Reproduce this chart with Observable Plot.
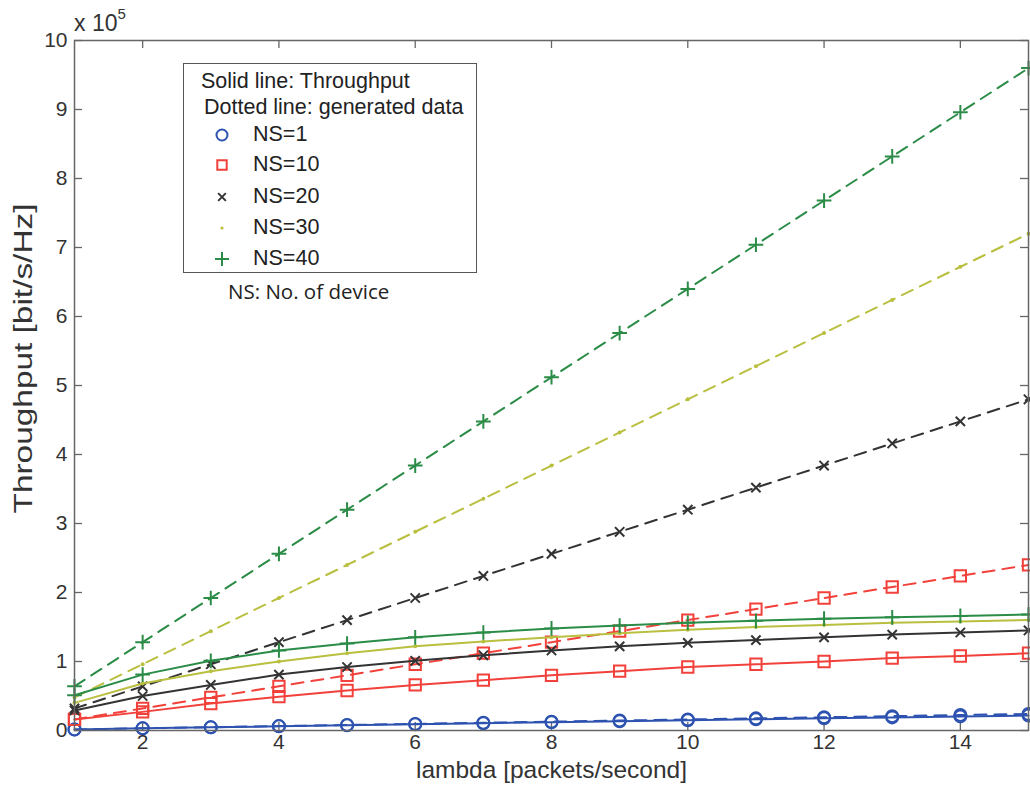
<!DOCTYPE html>
<html>
<head>
<meta charset="utf-8">
<script src="https://cdn.jsdelivr.net/npm/d3@7"></script>
<script src="https://cdn.jsdelivr.net/npm/@observablehq/plot@0.6"></script>
<style>
  body { margin: 0; background: #fff; }
  #wrap { position: relative; width: 1030px; height: 788px; overflow: hidden; }
  #wrap svg.plot { position: absolute; left: 0; top: 0; }
  .abs { position: absolute; white-space: nowrap; }
  #exp { left: 74px; top: 8px; font-family: "Liberation Sans", Arial, sans-serif; font-size: 23px; color: #333; }
  #exp sup { font-size: 15px; position: relative; top: -3px; }
  #legend { left: 183px; top: 63px; width: 294px; height: 210px; border: 1.5px solid #555; background: #fff; box-sizing: border-box; }
  .lt { font-family: "Liberation Sans", Arial, sans-serif; font-size: 21.5px; color: #222; }
  #note { font-family: "Open Sans", "Noto Sans", sans-serif; font-size: 20.5px; color: #222; }
</style>
</head>
<body>
<div id="wrap"></div>
<script>
// ---- data ----
const lambda = [1, 2, 3, 4, 5, 6, 7, 8, 9, 10, 11, 12, 13, 14, 15];
const nsLabels = ["NS=1", "NS=10", "NS=20", "NS=30", "NS=40"];
// throughput (solid), units of 1e5
const thrNS1  = [0.015, 0.031, 0.046, 0.061, 0.076, 0.091, 0.106, 0.12, 0.135, 0.149, 0.163, 0.177, 0.19, 0.204, 0.217];
const thrNS10 = [0.16, 0.27, 0.39, 0.49, 0.58, 0.66, 0.73, 0.80, 0.86, 0.92, 0.96, 1.00, 1.05, 1.08, 1.12];
const thrNS20 = [0.29, 0.50, 0.66, 0.81, 0.92, 1.01, 1.09, 1.16, 1.22, 1.27, 1.31, 1.35, 1.39, 1.42, 1.45];
const thrNS30 = [0.40, 0.68, 0.86, 1.00, 1.12, 1.22, 1.29, 1.35, 1.41, 1.46, 1.50, 1.53, 1.56, 1.58, 1.60];
const thrNS40 = [0.51, 0.81, 1.01, 1.16, 1.26, 1.35, 1.42, 1.48, 1.52, 1.56, 1.59, 1.62, 1.64, 1.66, 1.68];
// generated data (dashed), units of 1e5
const genNS1  = [0.016, 0.032, 0.048, 0.064, 0.08, 0.096, 0.112, 0.128, 0.144, 0.16, 0.176, 0.192, 0.208, 0.224, 0.24];
const genNS10 = [0.16, 0.32, 0.48, 0.64, 0.8, 0.96, 1.12, 1.28, 1.44, 1.6, 1.76, 1.92, 2.08, 2.24, 2.4];
const genNS20 = [0.32, 0.64, 0.96, 1.28, 1.6, 1.92, 2.24, 2.56, 2.88, 3.2, 3.52, 3.84, 4.16, 4.48, 4.8];
const genNS30 = [0.48, 0.96, 1.44, 1.92, 2.4, 2.88, 3.36, 3.84, 4.32, 4.8, 5.28, 5.76, 6.24, 6.72, 7.2];
const genNS40 = [0.64, 1.28, 1.92, 2.56, 3.2, 3.84, 4.48, 5.12, 5.76, 6.4, 7.04, 7.68, 8.32, 8.96, 9.6];
const xTicks = [2, 4, 6, 8, 10, 12, 14];
const yTicks = [0, 1, 2, 3, 4, 5, 6, 7, 8, 9, 10];
const xLabel = "lambda [packets/second]";
const yLabel = "Throughput [bit/s/Hz]";
const legendTitle1 = "Solid line: Throughput";
const legendTitle2 = "Dotted line: generated data";
const legendNote = "NS: No. of device";

// ---- styles ----
const colors = ["#2d52b0", "#f2413b", "#333333", "#b9bf3e", "#2b8c47"];
const symbols = ["circle", "square2", "times", "dotfill", "plus"];
const symR = [6, 7.2, 4.3, 2, 4.8];

const thr = [thrNS1, thrNS10, thrNS20, thrNS30, thrNS40];
const gen = [genNS1, genNS10, genNS20, genNS30, genNS40];

const rows = [];
nsLabels.forEach((ns, i) => {
  lambda.forEach((l, j) => {
    rows.push({ns, i, kind: "thr", lambda: l, value: thr[i][j]});
    rows.push({ns, i, kind: "gen", lambda: l, value: gen[i][j]});
  });
});

const W = 1030, H = 788, mL = 74, mR = 2, mT = 40, mB = 58;
const plotW = W - mL - mR, plotH = H - mT - mB;
const font = "'Liberation Sans', Arial, Helvetica, sans-serif";

const marks = [];
// inward ticks on all sides
marks.push(Plot.tickX(xTicks, {x: d => d, insetTop: plotH - 8, stroke: "#666", strokeWidth: 1.3}));
marks.push(Plot.tickX(xTicks, {x: d => d, insetBottom: plotH - 8, stroke: "#666", strokeWidth: 1.3}));
marks.push(Plot.tickY(yTicks, {y: d => d, insetRight: plotW - 8, stroke: "#666", strokeWidth: 1.3}));
marks.push(Plot.tickY(yTicks, {y: d => d, insetLeft: plotW - 8, stroke: "#666", strokeWidth: 1.3}));

nsLabels.forEach((ns, i) => {
  const g = rows.filter(r => r.i === i && r.kind === "gen");
  const t = rows.filter(r => r.i === i && r.kind === "thr");
  marks.push(Plot.line(g, {x: "lambda", y: "value", stroke: colors[i], strokeWidth: 2, strokeDasharray: "12,8"}));
  marks.push(Plot.line(t, {x: "lambda", y: "value", stroke: colors[i], strokeWidth: 2}));
  const both = g.concat(t);
  if (symbols[i] === "dotfill") {
    marks.push(Plot.dot(both, {x: "lambda", y: "value", r: symR[i], fill: colors[i], stroke: "none"}));
  } else {
    marks.push(Plot.dot(both, {x: "lambda", y: "value", r: symR[i], symbol: symbols[i], stroke: colors[i], fill: "none", strokeWidth: 2}));
  }
});

marks.push(Plot.frame({stroke: "#666", strokeWidth: 1.5}));
marks.push(Plot.axisX({ticks: xTicks, tickSize: 0, tickPadding: 4, label: null, fontSize: 21, color: "#333"}));
marks.push(Plot.axisY({ticks: yTicks, tickSize: 0, tickPadding: 7, label: null, fontSize: 21, color: "#333"}));
marks.push(Plot.text([xLabel], {text: d => d, frameAnchor: "bottom", dy: 47, fontSize: 24.5, fill: "#333", textAnchor: "middle"}));
marks.push(Plot.text([yLabel], {text: d => d, frameAnchor: "left", dx: -51, dy: -27, rotate: -90, fontSize: 26, fill: "#333", textAnchor: "middle"}));

const chart = Plot.plot({
  width: W, height: H,
  marginLeft: mL, marginRight: mR, marginTop: mT, marginBottom: mB,
  style: {fontFamily: font, fontSize: "21px", background: "#fff", overflow: "visible"},
  x: {domain: [1, 15], axis: null},
  y: {domain: [0, 10], axis: null},
  marks
});
chart.classList.add("plot");
// stretch the y label along its length to match the reference's proportions
d3.select(chart).selectAll("text").filter(function() { return this.textContent === yLabel; })
  .attr("textLength", 310).attr("lengthAdjust", "spacingAndGlyphs");

const wrap = document.getElementById("wrap");
wrap.appendChild(chart);

// exponent label
const exp = document.createElement("div");
exp.className = "abs"; exp.id = "exp";
exp.innerHTML = "x 10<sup>5</sup>";
wrap.appendChild(exp);

// legend
const leg = document.createElement("div");
leg.className = "abs"; leg.id = "legend";
wrap.appendChild(leg);

function addText(txt, left, top, cls) {
  const d = document.createElement("div");
  d.className = "abs " + cls;
  d.style.left = left + "px"; d.style.top = top + "px";
  d.textContent = txt;
  wrap.appendChild(d);
  return d;
}
addText(legendTitle1, 201, 69, "lt");
addText(legendTitle2, 204, 95, "lt");
const rowY = [135, 165, 197, 228, 259];
nsLabels.forEach((ns, i) => {
  addText(ns, 253, rowY[i] - 13, "lt");
  const svg = d3.create("svg").attr("width", 24).attr("height", 24)
    .style("position", "absolute").style("left", (222 - 12) + "px").style("top", (rowY[i] - 12) + "px");
  if (symbols[i] === "dotfill") {
    svg.append("circle").attr("cx", 12).attr("cy", 12).attr("r", 1.6).attr("fill", colors[i]);
  } else {
    const map = {circle: d3.symbolCircle, square2: d3.symbolSquare2, times: d3.symbolTimes, plus: d3.symbolPlus};
    const rr = [5.5, 6, 3.6, 2, 4.6][i];
    svg.append("path").attr("transform", "translate(12,12)")
      .attr("d", d3.symbol(map[symbols[i]], Math.PI * rr * rr)())
      .attr("fill", "none").attr("stroke", colors[i]).attr("stroke-width", 2);
  }
  wrap.appendChild(svg.node());
});
const note = addText(legendNote, 228, 277, "");
note.id = "note";
</script>
</body>
</html>
